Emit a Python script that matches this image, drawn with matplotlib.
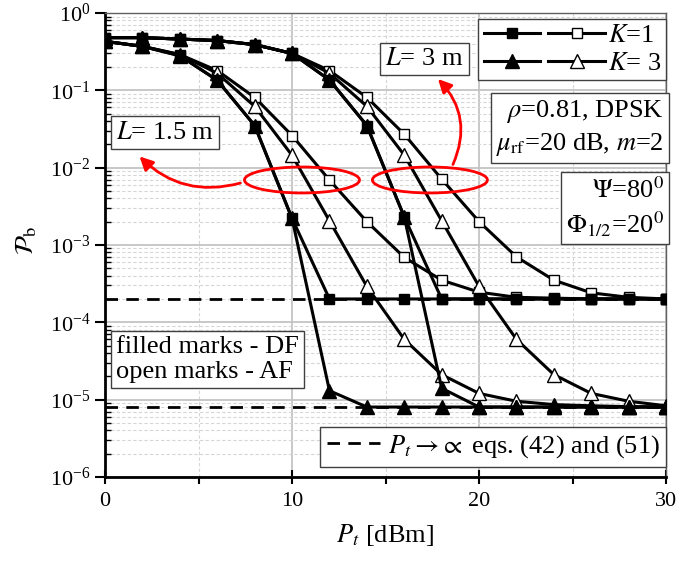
import matplotlib
matplotlib.use("Agg")
import matplotlib.pyplot as plt
from matplotlib.patches import Ellipse, FancyArrowPatch
from matplotlib.lines import Line2D
from matplotlib.legend_handler import HandlerTuple
from matplotlib.ticker import LogLocator, MultipleLocator

plt.rcParams['font.family'] = ['Liberation Serif', 'DejaVu Serif']
plt.rcParams['mathtext.fontset'] = 'stix'

# Pt in dBm
pt = [0, 2, 4, 6, 8, 10, 12, 14, 16, 18, 20, 22, 24, 26, 28, 30]

# L = 1.5 m
l15_k1_df = [0.43, 0.37, 0.28, 0.135, 0.035, 0.0022, 2e-4, 2e-4, 2e-4, 2e-4,
             2e-4, 2e-4, 2e-4, 2e-4, 2e-4, 2e-4]
l15_k3_df = [0.43, 0.37, 0.28, 0.135, 0.035, 0.0022, 1.3e-5, 8e-6, 8e-6, 8e-6,
             8e-6, 8e-6, 8e-6, 8e-6, 8e-6, 8e-6]
l15_k1_af = [0.43, 0.37, 0.29, 0.18, 0.081, 0.026, 0.0069, 0.002, 6.9e-4, 3.5e-4,
             2.45e-4, 2.1e-4, 2.05e-4, 2.0e-4, 2.0e-4, 2.0e-4]
l15_k3_af = [0.43, 0.37, 0.29, 0.166, 0.062, 0.0144, 0.00205, 2.9e-4, 6e-5, 2.1e-5,
             1.2e-5, 9.5e-6, 8.6e-6, 8.3e-6, 8.1e-6, 8e-6]

# L = 3 m
l3_k1_df = [0.48, 0.48, 0.46, 0.44, 0.39, 0.30, 0.136, 0.035, 0.0023, 2e-4,
            2e-4, 2e-4, 2e-4, 2e-4, 2e-4, 2e-4]
l3_k3_df = [0.48, 0.48, 0.46, 0.44, 0.39, 0.30, 0.136, 0.035, 0.0023, 1.4e-5,
            8e-6, 8e-6, 8e-6, 8e-6, 8e-6, 8e-6]
l3_k1_af = [0.48, 0.48, 0.46, 0.44, 0.39, 0.30, 0.18, 0.081, 0.027, 0.0071,
            0.002, 7e-4, 3.5e-4, 2.4e-4, 2.1e-4, 2.0e-4]
l3_k3_af = [0.48, 0.48, 0.46, 0.44, 0.39, 0.30, 0.166, 0.062, 0.0145, 0.00205,
            2.9e-4, 6e-5, 2.1e-5, 1.2e-5, 9.5e-6, 8.3e-6]

# asymptotes Pt -> inf
floor_k1 = 2e-4
floor_k3 = 8e-6

fig = plt.figure(figsize=(6.91, 5.65), dpi=100)
ax = fig.add_axes([0.152, 0.156, 0.812, 0.821])

ax.set_yscale('log')
ax.set_xlim(0, 30)
ax.set_ylim(1e-6, 1)

# grid
ax.grid(True, which='major', color='#c4c4c4', lw=1.3, ls='-')
ax.grid(True, which='minor', color='#d6d6d6', lw=0.8, ls=(0, (3, 2)))
ax.set_axisbelow(True)

# dashed asymptotes
ax.axhline(floor_k1, color='k', lw=2, ls=(0, (4.5, 3)), zorder=2)
ax.axhline(floor_k3, color='k', lw=2, ls=(0, (4.5, 3)), zorder=2)

sq = dict(marker='s', ms=7.5, mec='k', mew=1, lw=2.2, color='k')
tr = dict(marker='^', ms=10, mec='k', mew=1, lw=2.2, color='k')

for af, df, st in [(l15_k1_af, l15_k1_df, sq), (l15_k3_af, l15_k3_df, tr),
                   (l3_k1_af, l3_k1_df, sq), (l3_k3_af, l3_k3_df, tr)]:
    ax.plot(pt, af, mfc='white', zorder=3, **st)
    ax.plot(pt, df, mfc='k', zorder=4, **st)

# axes style
for s in ['left', 'bottom']:
    ax.spines[s].set_linewidth(2)
for s in ['top', 'right']:
    ax.spines[s].set_linewidth(1)
    ax.spines[s].set_color('#606060')

ax.xaxis.set_major_locator(MultipleLocator(10))
ax.xaxis.set_minor_locator(MultipleLocator(5))
ax.yaxis.set_major_locator(LogLocator(base=10, numticks=10))
ax.yaxis.set_minor_locator(LogLocator(base=10, subs=range(2, 10), numticks=20))
ax.yaxis.set_minor_formatter(plt.NullFormatter())
ax.tick_params(axis='x', which='major', direction='inout', length=10, width=1.5, labelsize=16, pad=6)
ax.tick_params(axis='x', which='minor', direction='out', length=5, width=1.5)
ax.tick_params(axis='y', which='major', direction='out', length=7, width=1.5, labelsize=16)
ax.tick_params(axis='y', which='minor', direction='in', length=4, width=1)

ax.set_xlabel(r'$P_t$ [dBm]', fontsize=19)
ax.set_ylabel(r'$\mathcal{P}_{\rm b}$', fontsize=19)
ax.xaxis.set_label_coords(0.499, -0.097)
ax.yaxis.set_label_coords(-0.118, 0.51)

# legend K
h1 = Line2D([], [], mfc='k', **sq)
h2 = Line2D([], [], mfc='white', **sq)
h3 = Line2D([], [], mfc='k', **tr)
h4 = Line2D([], [], mfc='white', **tr)
leg = ax.legend([(h1, h2), (h3, h4)], [r'$K$=1', r'$K$= 3'],
                handler_map={tuple: HandlerTuple(ndivide=None, pad=0.3)},
                loc='upper right', bbox_to_anchor=(1.0, 0.988), fontsize=19,
                handlelength=4.6, handletextpad=0.1, numpoints=1,
                labelspacing=0.15, borderpad=0.2, borderaxespad=0,
                fancybox=False, framealpha=1, edgecolor='#404040')
leg.get_frame().set_linewidth(1)
ax.add_artist(leg)

# legend asymptote
hd = Line2D([], [], color='k', lw=2, ls=(0, (4.5, 3)))
leg2 = ax.legend([hd], [r'$P_t \rightarrow\!\propto$ eqs. (42) and (51)'],
                 loc='lower right', bbox_to_anchor=(1.0, 0.022), fontsize=19,
                 handlelength=2.0, handletextpad=0.3, borderpad=0.25,
                 borderaxespad=0, fancybox=False, framealpha=1, edgecolor='#404040')
leg2.get_frame().set_linewidth(1)

box = dict(boxstyle='square,pad=0.2', fc='white', ec='#404040', lw=1)
ax.text(0.569, 0.901, r'$L$= 3 m', transform=ax.transAxes, fontsize=19,
        ha='center', va='center', bbox=box, zorder=6)
ax.text(0.107, 0.742, r'$L$= 1.5 m', transform=ax.transAxes, fontsize=19,
        ha='center', va='center', bbox=box, zorder=6)
ax.text(0.996, 0.752, '$\\rho$=0.81, DPSK\n$\\mu_{\\rm rf}$=20 dB, $m$=2',
        transform=ax.transAxes, fontsize=19, ha='right', va='center',
        bbox=box, zorder=6, linespacing=1.3)
ax.text(0.996, 0.580, '$\\Psi$=80$^0$\n$\\Phi_{1/2}$=20$^0$',
        transform=ax.transAxes, fontsize=19, ha='right', va='center',
        bbox=box, zorder=6, linespacing=1.3)
ax.text(0.020, 0.253, 'filled marks - DF\nopen marks - AF',
        transform=ax.transAxes, fontsize=19, ha='left', va='center',
        multialignment='left', bbox=box, zorder=6, linespacing=1.2)

# red ellipses and arrows
for cx in [0.351, 0.579]:
    ax.add_patch(Ellipse((cx, 0.640), 0.205, 0.056, transform=ax.transAxes,
                         fill=False, ec='red', lw=2, zorder=7))
ax.add_patch(FancyArrowPatch((0.246, 0.635), (0.058, 0.695), transform=ax.transAxes,
                             connectionstyle='arc3,rad=-0.3', arrowstyle='-|>',
                             mutation_scale=20, color='red', lw=2, zorder=7))
ax.add_patch(FancyArrowPatch((0.618, 0.668), (0.590, 0.862), transform=ax.transAxes,
                             connectionstyle='arc3,rad=0.35', arrowstyle='-|>',
                             mutation_scale=20, color='red', lw=2, zorder=7))

plt.savefig('out.png', dpi=100)
plt.close()
